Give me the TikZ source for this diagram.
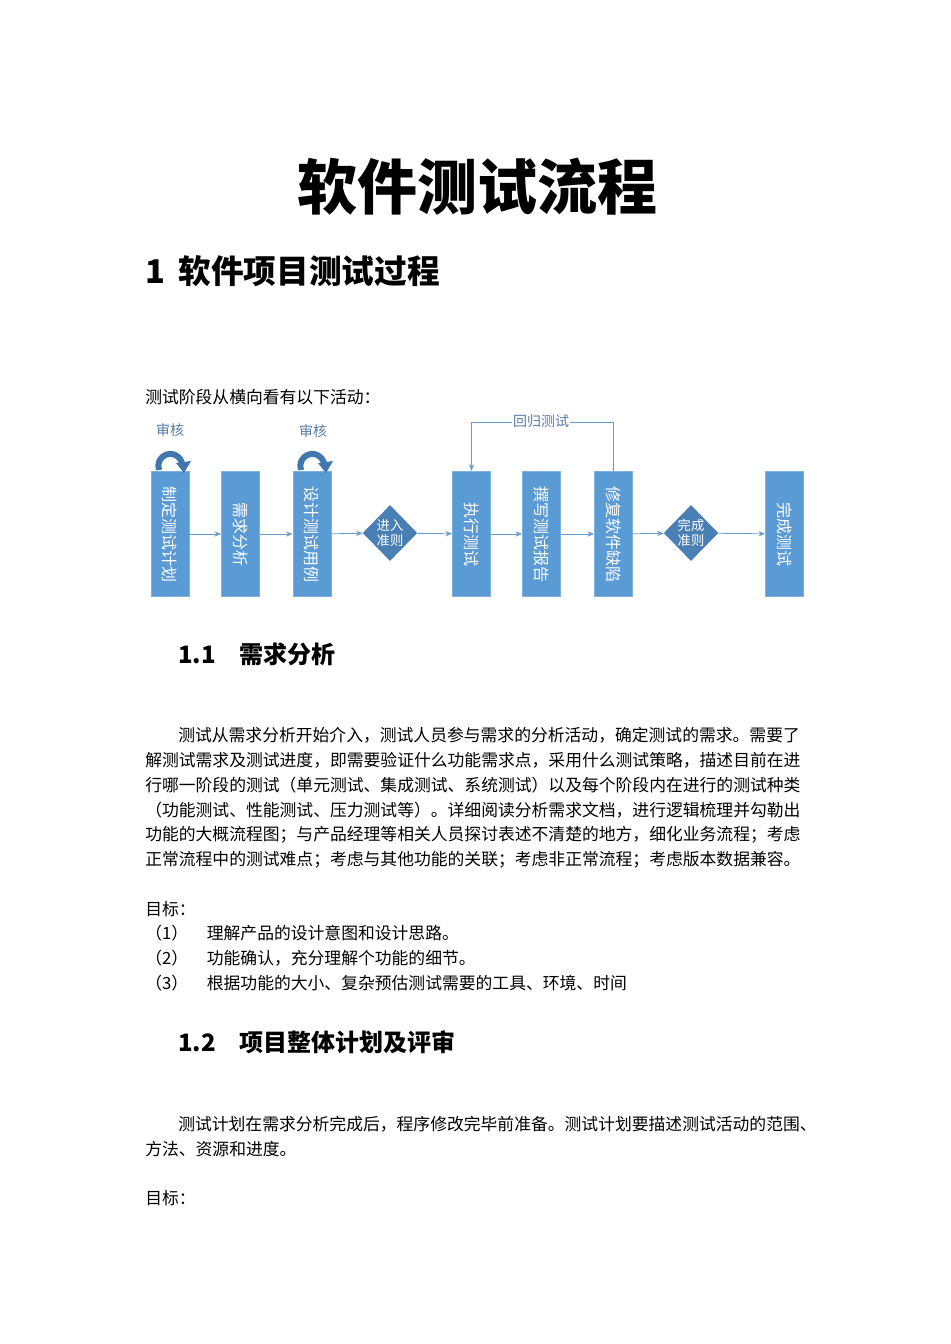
\documentclass[tikz,border=0pt]{standalone}
\usepackage{fontspec}
\setmainfont{Liberation Sans}
\newfontfamily\cjk{Noto Sans CJK SC}
\usetikzlibrary{shapes.geometric,arrows.meta}
\begin{document}
\begin{tikzpicture}[x=0.75pt,y=-0.75pt,
  stepbox/.style={fill=boxblue,draw=boxedge,line width=0.6pt,minimum width=28.5pt,minimum height=94pt,inner sep=0pt},
  vtext/.style={font=\cjk\fontsize{12}{12}\selectfont,text=white,rotate=-90},
  gate/.style={diamond,fill=diablue,minimum width=41pt,minimum height=42pt,inner sep=0pt,font=\cjk\fontsize{10}{11.5}\selectfont,text=white,align=center},
  flow/.style={draw=arrowblue,line width=0.6pt,-{Stealth[length=5pt,width=4pt]}},
  body/.style={anchor=west,font=\cjk\fontsize{12.6}{12}\selectfont,inner sep=0pt},
  lbl/.style={font=\cjk\fontsize{10.5}{11}\selectfont,text=arrowblue!80!black}]
\definecolor{boxblue}{HTML}{5B9BD5}
\definecolor{boxedge}{HTML}{7FB2E0}
\definecolor{diablue}{HTML}{4A7FB5}
\definecolor{arrowblue}{HTML}{6A9CD0}
\definecolor{circblue}{HTML}{3F77AE}
\useasboundingbox (0,0) rectangle (950,1344);
% title
\node[font=\cjk\bfseries\fontsize{45}{45}\selectfont] (title) at (477,187) {软件测试流程};
\node[anchor=west,font=\cjk\bfseries\fontsize{24.5}{24}\selectfont,inner sep=0pt] (h1) at (145,271) {1\hspace{10pt}软件项目测试过程};
\node[body] (intro) at (145,397) {测试阶段从横向看有以下活动：};
% flow
\node[stepbox] (b1) at (170,534) {}; \node[vtext] at (b1) {制定测试计划};
\node[stepbox] (b2) at (240.5,534) {}; \node[vtext] at (b2) {需求分析};
\node[stepbox] (b3) at (312,534) {}; \node[vtext] at (b3) {设计测试用例};
\node[gate] (d1) at (390,533) {进入\\准则};
\node[stepbox] (b4) at (471.5,534) {}; \node[vtext] at (b4) {执行测试};
\node[stepbox] (b5) at (541.5,534) {}; \node[vtext] at (b5) {撰写测试报告};
\node[stepbox] (b6) at (613.5,534) {}; \node[vtext] at (b6) {修复软件缺陷};
\node[gate] (d2) at (691,533) {完成\\准则};
\node[stepbox] (b7) at (784.5,534) {}; \node[vtext] at (b7) {完成测试};
\draw[flow] (b1) -- (b2); \draw[flow] (b2) -- (b3); \draw[flow] (b3) -- (d1);
\draw[flow] (d1) -- (b4); \draw[flow] (b4) -- (b5); \draw[flow] (b5) -- (b6);
\draw[flow] (b6) -- (d2); \draw[flow] (d2) -- (b7);
\coordinate (r1) at (613.5,422); \coordinate (r2) at (471.5,422);
\draw[flow] (b6.north) -- (r1) -- (r2) -- (b4.north);
\node[lbl,fill=white,inner sep=1pt] (rl) at (541,421) {回归测试};
% review loops
\foreach \cx in {170,312}{
  \draw[circblue,line width=4.5pt] (\cx-11,470) arc[start angle=-200,end angle=5,radius=12];
  \fill[circblue] (\cx+6,463) -- (\cx+21,461) -- (\cx+14,473) -- cycle;
}
\node[lbl] (s1) at (170,430) {审核};
\node[lbl] (s2) at (313,431) {审核};
% section 1.1
\node[anchor=west,font=\cjk\bfseries\fontsize{18}{18}\selectfont,inner sep=0pt] (h11) at (178,654) {1.1\hspace{18pt}需求分析};
\node[body] at (178,735) {测试从需求分析开始介入，测试人员参与需求的分析活动，确定测试的需求。需要了};
\node[body] at (145,760) {解测试需求及测试进度，即需要验证什么功能需求点，采用什么测试策略，描述目前在进};
\node[body] at (145,785) {行哪一阶段的测试（单元测试、集成测试、系统测试）以及每个阶段内在进行的测试种类};
\node[body] at (145,810) {（功能测试、性能测试、压力测试等）。详细阅读分析需求文档，进行逻辑梳理并勾勒出};
\node[body] at (145,835) {功能的大概流程图；与产品经理等相关人员探讨表述不清楚的地方，细化业务流程；考虑};
\node[body] at (145,860) {正常流程中的测试难点；考虑与其他功能的关联；考虑非正常流程；考虑版本数据兼容。};
\node[body] at (145,909) {目标：};
\node[body] at (145,933) {（1）\hspace{14pt}理解产品的设计意图和设计思路。};
\node[body] at (145,958) {（2）\hspace{14pt}功能确认，充分理解个功能的细节。};
\node[body] at (145,983) {（3）\hspace{14pt}根据功能的大小、复杂预估测试需要的工具、环境、时间};
% section 1.2
\node[anchor=west,font=\cjk\bfseries\fontsize{18}{18}\selectfont,inner sep=0pt] (h12) at (178,1042) {1.2\hspace{18pt}项目整体计划及评审};
\node[body] at (178,1124) {测试计划在需求分析完成后，程序修改完毕前准备。测试计划要描述测试活动的范围、};
\node[body] at (145,1149) {方法、资源和进度。};
\node[body] at (145,1198) {目标：};
\end{tikzpicture}
\end{document}
